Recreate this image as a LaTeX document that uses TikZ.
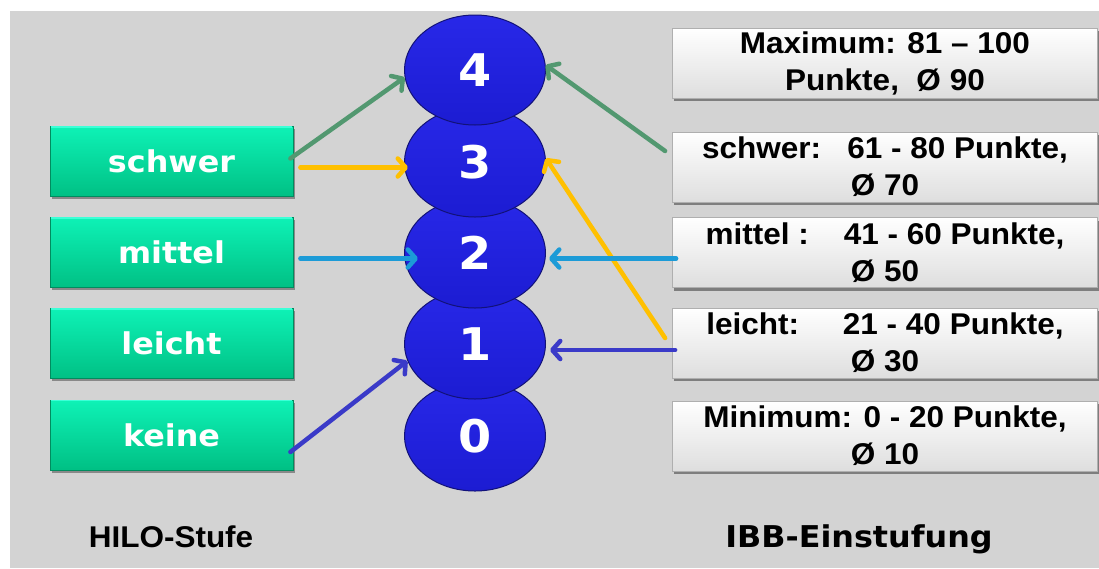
\documentclass[tikz,border=0pt]{standalone}
\usepackage{fontspec}
\usetikzlibrary{shapes.geometric,arrows.meta,shadows}
\newfontfamily\arialfont[FakeStretch=1.05]{Liberation Sans}
\newfontfamily\verdfont[FakeStretch=1.06]{DejaVu Sans}

\definecolor{bgcol}{RGB}{211,211,211}
\definecolor{gtop}{RGB}{14,242,182}
\definecolor{gbot}{RGB}{0,192,132}
\definecolor{gedge}{RGB}{0,140,95}
\definecolor{glight}{RGB}{60,255,215}
\definecolor{etop}{RGB}{40,40,232}
\definecolor{ebot}{RGB}{28,28,210}
\definecolor{eedge}{RGB}{18,18,120}
\definecolor{boxbot}{RGB}{222,222,222}
\definecolor{boxedge}{RGB}{175,175,175}
\definecolor{agreen}{RGB}{82,152,112}
\definecolor{ayellow}{RGB}{255,192,0}
\definecolor{acyan}{RGB}{28,155,215}
\definecolor{adblue}{RGB}{58,58,200}

\begin{document}
\begin{tikzpicture}[x=1pt,y=-1pt,
  lvlbox/.style={rectangle, minimum width=243pt, minimum height=70pt, inner sep=0pt,
    top color=gtop, bottom color=gbot, draw=gedge, line width=0.8pt,
    drop shadow={shadow xshift=1.5pt, shadow yshift=-2.5pt, fill=black, opacity=0.35},
    text=white, font=\verdfont\bfseries\fontsize{30pt}{34pt}\selectfont},
  ibbbox/.style={rectangle, minimum width=425pt, minimum height=70pt, inner sep=0pt,
    top color=white, bottom color=boxbot, draw=boxedge, line width=0.8pt,
    drop shadow={shadow xshift=1.5pt, shadow yshift=-3pt, fill=black, opacity=0.4},
    align=center, text=black, font=\arialfont\bfseries\fontsize{30pt}{37pt}\selectfont},
  stufe/.style={ellipse, minimum width=141pt, minimum height=110pt, inner sep=0pt,
    top color=etop, bottom color=ebot, draw=eedge, line width=1pt,
    text=white, font=\verdfont\bfseries\fontsize{45pt}{45pt}\selectfont},
  arr/.style={line width=4.5pt, line cap=round, line join=round,
    -{Straight Barb[length=8pt,width=18pt,round]}},
  caption/.style={anchor=base, text=black}
]
\useasboundingbox (0,0) rectangle (1099,568);
\fill[white] (0,0) rectangle (1099,568);
\fill[bgcol] (10,11) rectangle (1099,568);

% HILO levels
\node[lvlbox] (schwer) at (171.5,161.5) {schwer};
\node[lvlbox] (mittel) at (171.5,252.5) {mittel};
\node[lvlbox] (leicht) at (171.5,343.5) {leicht};
\node[lvlbox] (keine)  at (171.5,435)   {keine};
% light bevel along the top edge of each level box
\foreach \b in {schwer,mittel,leicht,keine}
  \draw[glight, line width=1.5pt] ([xshift=1pt,yshift=-1pt]\b.north west) -- ([xshift=-1pt,yshift=-1pt]\b.north east);

% stacked level ellipses, lowest first
\node[stufe] (e0) at (475,436) {0};
\node[stufe] (e1) at (475,344) {1};
\node[stufe] (e2) at (475,253) {2};
\node[stufe] (e3) at (475,162) {3};
\node[stufe] (e4) at (475,70)  {4};

% IBB score ranges
\node[ibbbox] (rmax) at (885,63)    {Maximum: 81 – 100\\Punkte,\ \ Ø 90};
\node[ibbbox] (rs)   at (885,167)   {schwer:\ \ \ 61 - 80 Punkte,\\Ø 70};
\node[ibbbox] (rm)   at (885,252.5) {mittel :\ \ \ \ 41 - 60 Punkte,\\Ø 50};
\node[ibbbox] (rl)   at (885,343)   {leicht:\ \ \ \ \ 21 - 40 Punkte,\\Ø 30};
\node[ibbbox] (rmin) at (885,436)   {Minimum: 0 - 20 Punkte,\\Ø 10};

% captions
\node[caption, font=\arialfont\bfseries\fontsize{30pt}{36pt}\selectfont] (capl) at (171,547) {HILO-Stufe};
\node[caption, font=\verdfont\bfseries\fontsize{30pt}{36pt}\selectfont] (capr) at (859,547) {IBB-Einstufung};

% connectors
\draw[arr, agreen] ([xshift=-3pt,yshift=3pt]schwer.east) -- (e4.186);
\draw[arr, agreen] ([xshift=-7pt,yshift=16pt]rs.west) -- (e4.4);

\coordinate (ys) at ([xshift=7pt,yshift=-6pt]schwer.east);
\draw[arr, ayellow] (ys) -- ([xshift=4pt]ys -| e3.west);
\draw[arr, ayellow] ([xshift=-7pt,yshift=5pt]rl.west) -- (e3.3);

\coordinate (cs) at ([xshift=7pt,yshift=-6pt]mittel.east);
\draw[arr, acyan] (cs) -- ([xshift=14pt]cs -| e2.west);
\coordinate (cr) at ([xshift=4pt,yshift=-6pt]rm.west);
\draw[arr, acyan] (cr) -- ([xshift=3pt]cr -| e2.east);

\coordinate (br) at ([xshift=3pt,yshift=-7pt]rl.west);
\draw[arr, adblue] (br) -- ([xshift=4pt]br -| e1.east);
\draw[arr, adblue] ([xshift=-3pt,yshift=-17pt]keine.east) -- (e1.194);
\end{tikzpicture}
\end{document}
